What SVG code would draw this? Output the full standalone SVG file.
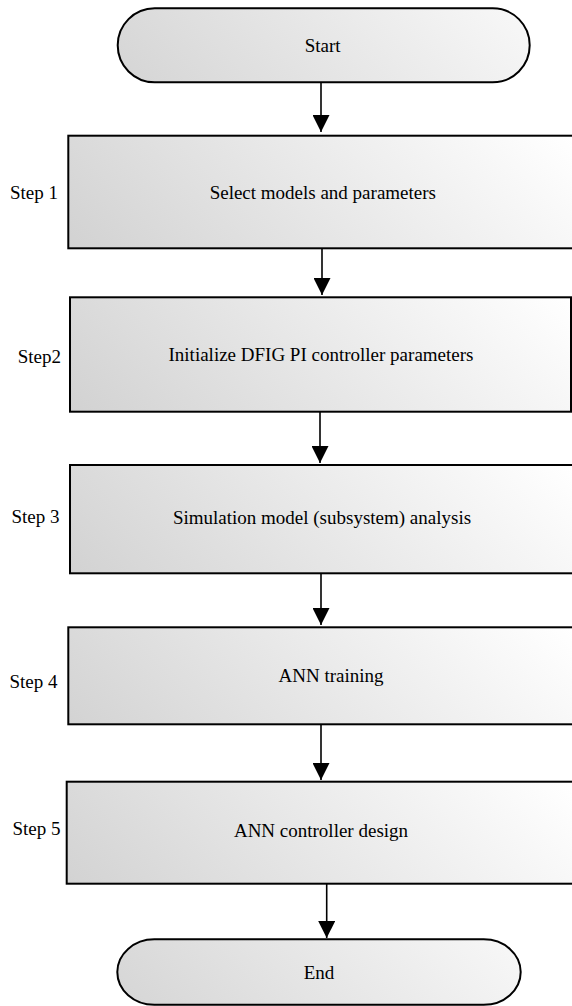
<svg xmlns="http://www.w3.org/2000/svg" width="572" height="1006" viewBox="0 0 572 1006">
<defs>
<linearGradient id="g" gradientUnits="userSpaceOnUse" x1="0" y1="110" x2="305" y2="-195">
<stop offset="0" stop-color="#d2d2d2"/>
<stop offset="1" stop-color="#ffffff"/>
</linearGradient>
<marker id="ah" viewBox="0 0 10 10" refX="10" refY="5" markerWidth="17" markerHeight="17" markerUnits="userSpaceOnUse" orient="auto">
<path d="M0,0 L10,5 L0,10 z" fill="#000"/>
</marker>
<style>
.shape{fill:url(#g);stroke:#000;stroke-width:2}
.t{font-family:"Liberation Serif","Times New Roman",serif;font-size:19px;fill:#000}
.c{text-anchor:middle}
.e{text-anchor:end}
.conn{stroke:#000;stroke-width:1.6;fill:none;marker-end:url(#ah)}
</style>
</defs>
<rect width="572" height="1006" fill="#fff"/>
<g id="connectors">
<line class="conn" x1="321" y1="82" x2="321" y2="132"/>
<line class="conn" x1="322" y1="249" x2="322" y2="295"/>
<line class="conn" x1="320" y1="412" x2="320" y2="463"/>
<line class="conn" x1="321" y1="574" x2="321" y2="625"/>
<line class="conn" x1="321" y1="725" x2="321" y2="780"/>
<line class="conn" x1="326.7" y1="884" x2="326.7" y2="938"/>
</g>
<g id="start">
<rect class="shape" transform="translate(117.7,8.3)" x="0" y="0" width="412" height="74" rx="37" ry="37"/>
<text class="t c" x="322.6" y="52">Start</text>
</g>
<g id="step1">
<rect class="shape" transform="translate(68.3,135.7)" x="0" y="0" width="507" height="112.6"/>
<text class="t c" x="322.8" y="198.5">Select models and parameters</text>
<text class="t e" x="58" y="199">Step 1</text>
</g>
<g id="step2">
<rect class="shape" transform="translate(70,297.3)" x="0" y="0" width="501" height="114.4"/>
<text class="t c" x="321" y="361">Initialize DFIG PI controller parameters</text>
<text class="t e" x="61" y="362.5">Step2</text>
</g>
<g id="step3">
<rect class="shape" transform="translate(70,465)" x="0" y="0" width="505" height="108.3"/>
<text class="t c" x="322" y="524">Simulation model (subsystem) analysis</text>
<text class="t e" x="59.5" y="522.5">Step 3</text>
</g>
<g id="step4">
<rect class="shape" transform="translate(68.3,627.3)" x="0" y="0" width="507" height="97"/>
<text class="t c" x="331" y="682">ANN training</text>
<text class="t e" x="57.5" y="688">Step 4</text>
</g>
<g id="step5">
<rect class="shape" transform="translate(66.7,781.7)" x="0" y="0" width="509" height="102"/>
<text class="t c" x="321" y="837">ANN controller design</text>
<text class="t e" x="60.5" y="835">Step 5</text>
</g>
<g id="end">
<rect class="shape" transform="translate(117.3,939.3)" x="0" y="0" width="403.4" height="65.5" rx="37" ry="33"/>
<text class="t c" x="319" y="979">End</text>
</g>
</svg>
